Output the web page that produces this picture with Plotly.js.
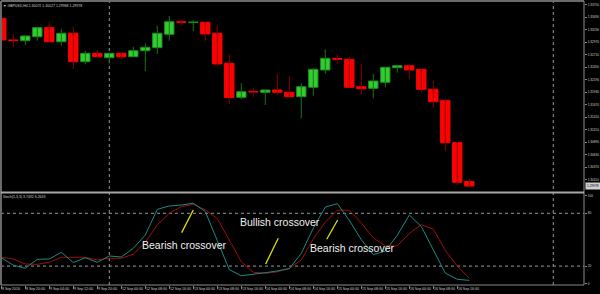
<!DOCTYPE html>
<html><head><meta charset="utf-8">
<script src="https://cdn.plot.ly/plotly-3.0.1.min.js"></script>
<style>html,body{margin:0;padding:0;background:#000;}#chart{width:600px;height:294px;}</style>
</head><body><div id="chart"></div>
<script>
const symbol = "GBPUSD,H4";
const opens  = [1.33467,1.33016,1.33001,1.33084,1.33272,1.32980,1.33155,1.32564,1.32739,1.32648,1.32739,1.32668,1.32793,1.32856,1.33134,1.33396,1.33378,1.33384,1.33155,1.32531,1.31824,1.31945,1.31928,1.31976,1.31928,1.31836,1.32032,1.32392,1.32631,1.32614,1.32044,1.32011,1.32136,1.32440,1.32481,1.32406,1.31990,1.31753,1.30880,1.30072];
const highs  = [1.33484,1.33134,1.33109,1.33292,1.33396,1.33245,1.33292,1.32787,1.32808,1.32752,1.32772,1.32876,1.32947,1.33313,1.33515,1.33432,1.33432,1.33396,1.33313,1.32718,1.32115,1.32011,1.31990,1.32309,1.32267,1.32115,1.32427,1.32822,1.32718,1.32668,1.32510,1.32309,1.32460,1.32496,1.32496,1.32413,1.32163,1.31795,1.30894,1.30127];
const lows   = [1.32856,1.32864,1.32912,1.33001,1.32960,1.32897,1.32413,1.32510,1.32656,1.32531,1.32600,1.32656,1.32371,1.32725,1.33001,1.33307,1.33203,1.33001,1.32481,1.31685,1.31789,1.31836,1.31664,1.31872,1.31824,1.31387,1.31857,1.32309,1.32517,1.32011,1.31872,1.31803,1.32032,1.32336,1.32198,1.31920,1.31608,1.30707,1.29994,1.29968];
const closes = [1.33016,1.33003,1.33099,1.33272,1.32980,1.33155,1.32564,1.32739,1.32668,1.32739,1.32668,1.32793,1.32864,1.33155,1.33396,1.33384,1.33390,1.33141,1.32517,1.31816,1.31940,1.31934,1.31976,1.31928,1.31836,1.32044,1.32406,1.32635,1.32614,1.32032,1.32003,1.32163,1.32448,1.32481,1.32392,1.31990,1.31732,1.30880,1.30056,1.29978];
const stochMain   = [29.5,21,17.5,27.7,28,35.7,24,29.5,24.3,31.5,30.3,40.2,55.3,84.5,88.3,89.4,91.4,82,49,16,9,10.5,12.5,14.5,17,34.5,63,87,91,72,50,33,37,55,78,65,38,12,5,3.7432];
const stochSignal = [30,28,22.4,22,24.3,30,30,30,27,28.9,28.9,33.4,47,66.7,80,87.5,90.2,84,74,50,25,13,11.8,13.5,17.5,27,51,70,83.5,83.5,69,52,43,43,57,67,62,38,20,6.2643];
const stochName = "Stoch(5,3,3)";
const timeLabels = ["8 Sep 2016","8 Sep 20:00","9 Sep 04:00","9 Sep 12:00","9 Sep 20:00","12 Sep 00:00","12 Sep 08:00","12 Sep 16:00","13 Sep 00:00","13 Sep 08:00","13 Sep 16:00","14 Sep 00:00","14 Sep 08:00","14 Sep 16:00","15 Sep 00:00","15 Sep 08:00","15 Sep 16:00","16 Sep 00:00","16 Sep 08:00","16 Sep 16:00"];
const timeLabelIdx = [0,2,4,6,8,10,12,14,16,18,20,22,24,26,28,30,32,34,36,38];
const priceTicks = [1.33750,1.33490,1.33230,1.32970,1.32710,1.32450,1.32190,1.31930,1.31670,1.31410,1.31150,1.30890,1.30630,1.30370,1.30110];
const stochTicks = [100,80,20,0];
const stochLevels = [80,20];
const separatorIdx = [9,46];
const noteTexts = ["Bearish crossover","Bullish crossover","Bearish crossover"];

const idx = opens.map((_, i) => i);
const isUp = idx.map(i => closes[i] >= opens[i]);

function wicks(up) {
  const x = [], y = [];
  idx.forEach(i => { if (isUp[i] === up) { x.push(i, i, null); y.push(lows[i], highs[i], null); } });
  return {type:'scatter', mode:'lines', x, y, xaxis:'x', yaxis:'y', hoverinfo:'skip',
          line:{color: up ? '#117a11' : '#8a0000', width:1}, showlegend:false};
}

const bodies = {
  type:'bar', x: idx, xaxis:'x', yaxis:'y', width:0.78,
  base: idx.map(i => Math.min(opens[i], closes[i])),
  y: idx.map(i => Math.max(Math.abs(closes[i]-opens[i]), 0.00001)),
  marker:{color: idx.map(i => isUp[i] ? '#33cc33' : '#ff0000'),
          line:{color: idx.map(i => isUp[i] ? '#1c8f1c' : '#ff0000'), width:1}},
  hoverinfo:'skip', showlegend:false
};

const sigTrace = {type:'scatter', mode:'lines', x: idx, y: stochSignal, xaxis:'x', yaxis:'y2',
  line:{color:'#a00d0d', width:1}, hoverinfo:'skip', showlegend:false};
const mainTrace = {type:'scatter', mode:'lines', x: idx, y: stochMain, xaxis:'x', yaxis:'y2',
  line:{color:'#1b8a84', width:1}, hoverinfo:'skip', showlegend:false};

const gray = '#8a8a8a';
const shapes = [];
separatorIdx.forEach(s => shapes.push({type:'line', xref:'x', yref:'paper', x0:s, x1:s, y0:0, y1:1,
  line:{color:'#9a9a9a', width:1, dash:'dot'}, layer:'below'}));
stochLevels.forEach(l => shapes.push({type:'line', xref:'paper', yref:'y2', x0:0, x1:1, y0:l, y1:l,
  line:{color:'#9a9a9a', width:1, dash:'dot'}, layer:'below'}));
shapes.push({type:'line', xref:'paper', yref:'paper', x0:0, x1:1, y0:1, y1:1, line:{color:'#6a6a6a', width:2}});
shapes.push({type:'line', xref:'paper', yref:'paper', x0:0, x1:0, y0:0, y1:1, line:{color:'#6a6a6a', width:2}});
shapes.push({type:'line', xref:'paper', yref:'paper', x0:1, x1:1, y0:0, y1:1, line:{color:gray, width:1}});
shapes.push({type:'line', xref:'paper', yref:'paper', x0:0, x1:1, y0:0, y1:0, line:{color:gray, width:1}});
shapes.push({type:'line', xref:'paper', yref:'paper', x0:0, x1:1, y0:0.3257, y1:0.3257, line:{color:'#a8a8a8', width:2}});
[[15.03,58,16.0,83.7],[22.03,22.4,23.08,51.6],[27.12,50.5,28.03,72.4]].forEach(p =>
  shapes.push({type:'line', xref:'x', yref:'y2', x0:p[0], y0:p[1], x1:p[2], y1:p[3], line:{color:'#e0e000', width:1.3}}));

const fam = 'Liberation Sans, Arial, sans-serif';
const small = {family:fam, size:3.5, color:'#cfcfcf'};
const axisFont = {family:fam, size:3.2, color:'#cfcfcf'};
const annotations = [];
timeLabels.forEach((t, k) => annotations.push({x: timeLabelIdx[k], xref:'x', y:-0.0141, yref:'paper',
  xanchor:'left', yanchor:'middle', text:t, showarrow:false, font:small, xshift:0, borderpad:0}));
annotations.push({x:0, xref:'paper', y:1, yref:'paper', xanchor:'left', yanchor:'top', xshift:1, yshift:-1.5,
  text:'\u25BC ' + symbol + ' ' + [opens, highs, lows, closes].map(a => a[a.length-1].toFixed(5)).join(' '),
  showarrow:false, font:small, borderpad:0});
annotations.push({x:0, xref:'paper', y:0.3222, yref:'paper', xanchor:'left', yanchor:'top', xshift:1, yshift:-1,
  text: stochName + ' ' + stochMain[stochMain.length-1].toFixed(4) + ' ' + stochSignal[stochSignal.length-1].toFixed(4),
  showarrow:false, font:small, borderpad:0});
annotations.push({x:1, xref:'paper', y: closes[closes.length-1], yref:'y', xanchor:'left', yanchor:'middle', xshift:1,
  text: closes[closes.length-1].toFixed(5), showarrow:false, bgcolor:'#cfcfcf', borderpad:1,
  font:{family:fam, size:3.2, color:'#000'}});
const noteFont = {family:fam, size:10.5, color:'#f2f2f2'};
[[11.62,44],[19.83,70.5],[25.67,40.2]].forEach((p, k) => annotations.push({x:p[0], xref:'x', y:p[1], yref:'y2',
  xanchor:'left', yanchor:'middle', text: noteTexts[k], showarrow:false, font: noteFont, borderpad:0}));

const layout = {
  width:600, height:294, margin:{l:1, r:16, t:1, b:9},
  paper_bgcolor:'#000', plot_bgcolor:'#000', showlegend:false, bargap:0,
  xaxis:{domain:[0,1], range:[-0.025,48.56], anchor:'y2', showgrid:false, zeroline:false, showline:false,
    tickvals: timeLabelIdx, ticks:'outside', ticklen:3, tickcolor:gray, showticklabels:false, fixedrange:true},
  yaxis:{domain:[0.3275,1], range:[1.29854,1.33827], side:'right', anchor:'x', showgrid:false, zeroline:false,
    showline:false, tickvals: priceTicks, ticktext: priceTicks.map(v => v.toFixed(5)), ticks:'outside', ticklen:2,
    tickcolor:gray, tickfont:axisFont, fixedrange:true},
  yaxis2:{domain:[0,0.3222], range:[-1.5,102.5], side:'right', anchor:'x', showgrid:false, zeroline:false,
    showline:false, tickvals: stochTicks, ticktext: stochTicks.map(String), ticks:'outside', ticklen:2,
    tickcolor:gray, tickfont:axisFont, fixedrange:true},
  shapes, annotations
};

Plotly.newPlot('chart', [wicks(true), wicks(false), bodies, sigTrace, mainTrace], layout, {staticPlot:true, displayModeBar:false});
</script>
</body></html>
